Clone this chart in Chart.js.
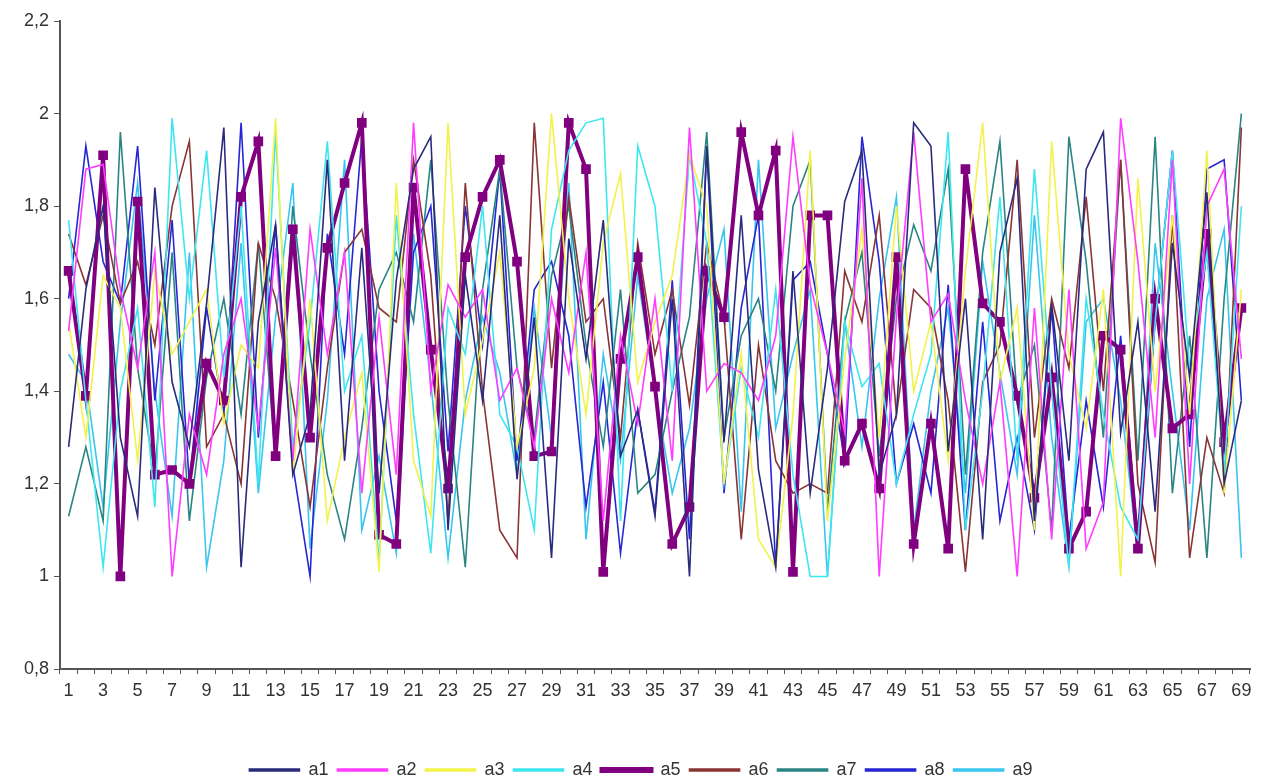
<!DOCTYPE html>
<html>
<head>
<meta charset="utf-8">
<script src="https://cdn.jsdelivr.net/npm/chart.js@4"></script>
<style>
  html, body { margin: 0; padding: 0; background: #fff; }
  #wrap { width: 1266px; height: 775px; }
</style>
</head>
<body>
<div id="wrap"><canvas id="lineChart" width="1266" height="775"></canvas></div>
<script>
// categories 1..69
const categories = [
  '1','2','3','4','5','6','7','8','9','10',
  '11','12','13','14','15','16','17','18','19','20',
  '21','22','23','24','25','26','27','28','29','30',
  '31','32','33','34','35','36','37','38','39','40',
  '41','42','43','44','45','46','47','48','49','50',
  '51','52','53','54','55','56','57','58','59','60',
  '61','62','63','64','65','66','67','68','69'
];

const yTicks = [0.8, 1, 1.2, 1.4, 1.6, 1.8, 2, 2.2];

const a1 = [
  1.28,1.62,1.80,1.30,1.13,1.84,1.42,1.28,1.59,1.97,
  1.02,1.55,1.76,1.22,1.35,1.90,1.25,1.71,1.18,1.64,
  1.88,1.95,1.10,1.65,1.38,1.78,1.21,1.56,1.04,1.73,
  1.47,1.77,1.26,1.36,1.13,1.60,1.00,1.93,1.29,1.78,
  1.23,1.02,1.66,1.18,1.45,1.81,1.92,1.22,1.35,1.98,
  1.93,1.27,1.60,1.08,1.70,1.86,1.12,1.59,1.25,1.88,
  1.96,1.31,1.55,1.14,1.72,1.43,1.83,1.20,1.38
];
const a2 = [
  1.53,1.88,1.89,1.62,1.45,1.70,1.00,1.35,1.22,1.48,
  1.60,1.32,1.71,1.25,1.75,1.48,1.70,1.18,1.56,1.22,
  1.98,1.40,1.63,1.56,1.62,1.38,1.45,1.28,1.60,1.44,
  1.70,1.12,1.52,1.33,1.60,1.25,1.97,1.40,1.46,1.44,
  1.38,1.52,1.95,1.63,1.48,1.31,1.86,1.00,1.56,1.96,
  1.55,1.61,1.38,1.20,1.42,1.00,1.58,1.08,1.62,1.06,
  1.16,1.99,1.68,1.30,1.90,1.20,1.80,1.88,1.47
];
const a3 = [
  1.55,1.30,1.65,1.58,1.25,1.66,1.48,1.55,1.62,1.33,
  1.50,1.45,1.99,1.22,1.60,1.12,1.30,1.44,1.01,1.85,
  1.25,1.13,1.98,1.35,1.51,1.70,1.28,1.45,2.00,1.60,
  1.35,1.72,1.87,1.42,1.55,1.65,1.91,1.80,1.20,1.48,
  1.08,1.02,1.35,1.92,1.12,1.47,1.75,1.30,1.80,1.40,
  1.55,1.25,1.66,1.98,1.42,1.58,1.10,1.94,1.48,1.32,
  1.62,1.00,1.86,1.40,1.78,1.35,1.92,1.18,1.62
];
const a4 = [
  1.77,1.38,1.02,1.40,1.58,1.15,1.99,1.60,1.92,1.43,
  1.80,1.20,1.96,1.28,1.55,1.94,1.40,1.52,1.03,1.78,
  1.35,1.05,1.58,1.48,1.80,1.35,1.28,1.10,1.75,1.92,
  1.98,1.99,1.12,1.93,1.80,1.40,1.91,1.72,1.20,1.45,
  1.30,1.62,1.22,1.00,1.00,1.55,1.41,1.46,1.20,1.35,
  1.48,1.96,1.10,1.40,1.82,1.25,1.88,1.40,1.02,1.60,
  1.35,1.15,1.08,1.55,1.92,1.45,1.70,1.22,1.80
];
const a5 = [
  1.66,1.39,1.91,1.00,1.81,1.22,1.23,1.20,1.46,1.38,
  1.82,1.94,1.26,1.75,1.30,1.71,1.85,1.98,1.09,1.07,
  1.84,1.49,1.19,1.69,1.82,1.90,1.68,1.26,1.27,1.98,
  1.88,1.01,1.47,1.69,1.41,1.07,1.15,1.66,1.56,1.96,
  1.78,1.92,1.01,1.78,1.78,1.25,1.33,1.19,1.69,1.07,
  1.33,1.06,1.88,1.59,1.55,1.39,1.17,1.43,1.06,1.14,
  1.52,1.49,1.06,1.60,1.32,1.35,1.74,1.29,1.58
];
const a6 = [
  1.74,1.63,1.78,1.59,1.68,1.50,1.80,1.94,1.28,1.35,
  1.20,1.72,1.60,1.38,1.15,1.45,1.70,1.75,1.58,1.55,
  1.90,1.65,1.12,1.85,1.40,1.10,1.04,1.98,1.45,1.82,
  1.55,1.60,1.30,1.72,1.48,1.62,1.37,1.72,1.56,1.08,
  1.50,1.25,1.18,1.20,1.18,1.66,1.55,1.78,1.35,1.62,
  1.58,1.38,1.01,1.42,1.50,1.90,1.30,1.60,1.45,1.82,
  1.40,1.90,1.20,1.03,1.78,1.04,1.30,1.18,1.97
];
const a7 = [
  1.13,1.28,1.12,1.96,1.45,1.22,1.70,1.12,1.43,1.60,
  1.35,1.72,1.25,1.80,1.48,1.22,1.08,1.32,1.62,1.70,
  1.55,1.90,1.38,1.02,1.62,1.88,1.45,1.30,1.65,1.80,
  1.50,1.28,1.62,1.18,1.22,1.40,1.56,1.96,1.30,1.52,
  1.60,1.40,1.80,1.90,1.14,1.55,1.70,1.26,1.60,1.76,
  1.66,1.88,1.22,1.70,1.94,1.38,1.50,1.10,1.95,1.68,
  1.30,1.90,1.25,1.95,1.18,1.52,1.04,1.60,2.00
];
const a8 = [
  1.60,1.93,1.68,1.59,1.93,1.38,1.77,1.20,1.58,1.35,
  1.98,1.30,1.76,1.24,1.00,1.74,1.48,1.95,1.40,1.12,
  1.70,1.80,1.27,1.80,1.50,1.88,1.25,1.62,1.68,1.52,
  1.15,1.42,1.05,1.36,1.14,1.64,1.08,1.93,1.18,1.58,
  1.78,1.02,1.64,1.68,1.48,1.25,1.95,1.68,1.20,1.33,
  1.18,1.63,1.10,1.55,1.12,1.30,1.10,1.58,1.08,1.38,
  1.15,1.52,1.08,1.55,1.92,1.28,1.88,1.90,1.38
];
const a9 = [
  1.48,1.42,1.15,1.55,1.85,1.40,1.13,1.70,1.02,1.25,
  1.72,1.18,1.56,1.85,1.06,1.38,1.90,1.10,1.26,1.05,
  1.74,1.42,1.04,1.38,1.56,1.44,1.22,1.58,1.30,1.85,
  1.08,1.48,1.25,1.65,1.40,1.18,1.32,1.60,1.75,1.14,
  1.90,1.32,1.48,1.62,1.00,1.55,1.28,1.60,1.82,1.10,
  1.40,1.58,1.18,1.68,1.44,1.22,1.78,1.30,1.02,1.55,
  1.60,1.38,1.05,1.72,1.40,1.10,1.60,1.75,1.04
];

const seriesNames = ['a1', 'a2', 'a3', 'a4', 'a5', 'a6', 'a7', 'a8', 'a9'];
const seriesValues = [a1, a2, a3, a4, a5, a6, a7, a8, a9];
const seriesColors = ['#2b2b7e', '#ff3cff', '#f2f24a', '#3ee6ef', '#800080', '#8a3535', '#2a8582', '#2626d6', '#38c6ef'];

// move the legend row a bit lower and right, like the original
const legendShift = {
    id: 'legendShift',
    afterLayout(chart) {
        chart.legend.top += 14;
        chart.legend.bottom += 14;
        chart.legend.left += 16;
        chart.legend.right += 16;
    }
};

document.addEventListener('DOMContentLoaded', () => {

    const createChart = (ctx, config) => new Chart(ctx, config);

    const datasets = seriesNames.map((name, i) => {
        const thick = name === 'a5';
        return {
            label: name,
            data: seriesValues[i],
            borderColor: seriesColors[i],
            backgroundColor: seriesColors[i],
            borderWidth: thick ? 4 : 1.6,
            pointRadius: thick ? 4 : 0,
            pointStyle: 'rect',
            pointBackgroundColor: seriesColors[i],
            tension: 0,
            fill: false
        };
    });

    const axisColor = '#555';
    const font = { family: 'Liberation Sans, Arial, sans-serif', size: 18 };

    createChart(document.getElementById('lineChart'), {
        type: 'line',
        data: { labels: categories, datasets },
        plugins: [legendShift],
        options: {
            responsive: false,
            animation: false,
            layout: { padding: { top: 21, right: 16, bottom: 0, left: 0 } },
            plugins: {
                tooltip: { enabled: false },
                legend: {
                    position: 'bottom',
                    labels: {
                        boxWidth: 50,
                        boxHeight: 2,
                        padding: 9,
                        color: '#333',
                        font
                    }
                }
            },
            scales: {
                x: {
                    offset: true,
                    afterFit: (scale) => { scale.height = 69; },
                    grid: {
                        display: true,
                        offset: true,
                        drawOnChartArea: false,
                        drawTicks: true,
                        tickLength: 5,
                        color: axisColor
                    },
                    border: { display: true, color: axisColor, width: 2 },
                    ticks: {
                        autoSkip: false,
                        maxRotation: 0,
                        padding: 6,
                        color: '#333',
                        font,
                        callback: (val, idx) => (idx % 2 === 0 ? categories[idx] : '')
                    }
                },
                y: {
                    min: yTicks[0],
                    max: yTicks[yTicks.length - 1],
                    afterFit: (scale) => { scale.width = 60; },
                    afterBuildTicks: (scale) => { scale.ticks = yTicks.map(v => ({ value: v })); },
                    grid: {
                        display: true,
                        drawOnChartArea: false,
                        drawTicks: true,
                        tickLength: 6,
                        color: axisColor
                    },
                    border: { display: true, color: axisColor, width: 2 },
                    ticks: {
                        padding: 5,
                        color: '#333',
                        font,
                        callback: (v) => String(Number(v.toFixed(1))).replace('.', ',')
                    }
                }
            }
        }
    });
});
</script>
</body>
</html>
